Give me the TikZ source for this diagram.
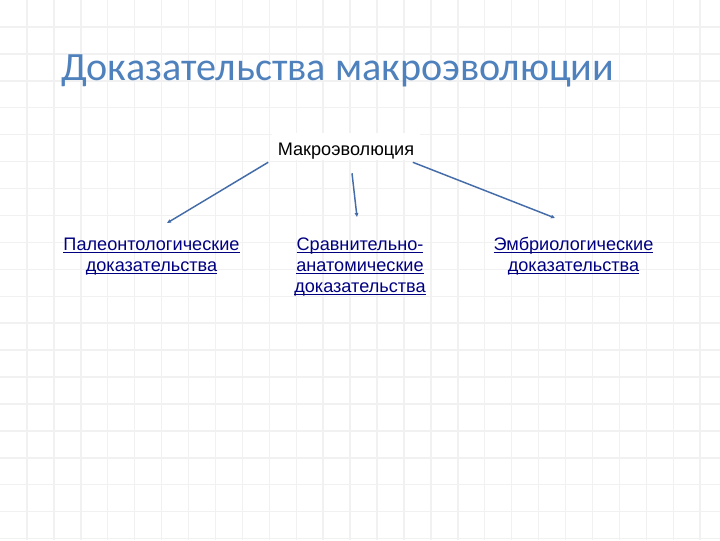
\documentclass[tikz,border=0pt]{standalone}
\usepackage{fontspec}
\setmainfont{Liberation Sans}
\newfontfamily\titlefont{Carlito}
\usetikzlibrary{arrows.meta,calc}
\definecolor{titleblue}{RGB}{79,129,189}
\definecolor{linkblue}{RGB}{0,0,128}
\definecolor{arrowblue}{RGB}{68,108,168}
\definecolor{gridgray}{RGB}{241,241,241}
% underlined link text
\newcommand{\linktext}[1]{\setbox0\hbox{#1}\rlap{\rule[-1.8pt]{\wd0}{0.75pt}}\box0}

\begin{document}
\begin{tikzpicture}[x=0.75pt,y=0.75pt,yscale=-1,xscale=1,
  gridline/.style={draw=gridgray,line width=1.1pt},
  evidence/.style={anchor=north,inner sep=0pt,align=center,text=linkblue,
    font=\fontsize{13.6pt}{15.75pt}\selectfont},
  link/.style={draw=arrowblue,line width=1.1pt,-{Triangle[length=3pt,width=2.6pt]}}]
\useasboundingbox (0,0) rectangle (720,540);
\fill[white] (0,0) rectangle (720,540);

%Grid
\foreach \k in {1,...,26} \draw[gridline] (\k*26.93,0) -- (\k*26.93,540);
\foreach \k in {1,...,20} \draw[gridline] (0,\k*26.93) -- (720,\k*26.93);

% Title
\node (title) at (61,80) [anchor=base west,inner sep=0pt,text=titleblue,
  font=\titlefont\fontsize{30.1pt}{36pt}\selectfont] {Доказательства макроэволюции};

% Text Node
\node (macro) at (346,155) [anchor=base,fill=white,inner xsep=4pt,inner ysep=0pt,
  text height=16.5pt,text depth=3.75pt,font=\fontsize{13.6pt}{15.75pt}\selectfont] {Макроэволюция};
% Text Node
\node (paleo) at (151.5,237.4) [evidence] {\linktext{Палеонтологические}\\\linktext{доказательства}};
% Text Node
\node (compar) at (360,237.4) [evidence] {\linktext{Сравнительно-}\\\linktext{анатомические}\\\linktext{доказательства}};
% Text Node
\node (embryo) at (573.5,237.4) [evidence] {\linktext{Эмбриологические}\\\linktext{доказательства}};

%Straight Lines
\draw[link] ($(macro.south west)+(-4,2)$) -- ($(paleo.north)+(15.5,-14.4)$);
\draw[link] ($(macro.south)+(6,13)$) -- ($(compar.north)+(-3,-20.4)$);
\draw[link] ($(macro.south east)+(-7,2)$) -- ($(embryo.north)+(-18.5,-19.4)$);

\end{tikzpicture}
\end{document}
